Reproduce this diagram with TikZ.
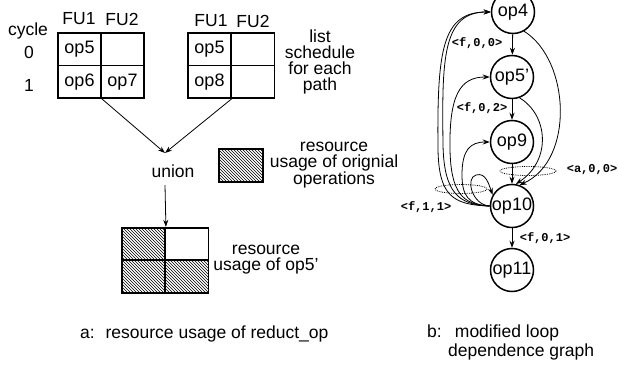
\documentclass[tikz,border=0pt]{standalone}
\usepackage{fontspec}
\setmainfont{Liberation Sans}
\newfontfamily\tagfont{Liberation Mono}
\usetikzlibrary{arrows.meta,patterns}

\begin{document}
\begin{tikzpicture}[x=1pt,y=-1pt,
  txt/.style={font=\fontsize{17.5}{16}\selectfont, inner sep=0pt, align=center},
  capt/.style={font=\fontsize{17.5}{19}\selectfont, inner sep=0pt, anchor=west},
  cell/.style={draw, line width=1.5pt, minimum width=43pt, minimum height=32.5pt,
               inner sep=0pt, font=\fontsize{18}{18}\selectfont},
  bigcell/.style={cell, line width=1.8pt},
  hatch/.style={pattern=north west lines, pattern color=black},
  opnode/.style={circle, draw, line width=1.5pt, minimum size=43pt, inner sep=0pt,
                 font=\fontsize{18}{18}\selectfont},
  tag/.style={font=\fontsize{12}{12}\selectfont\tagfont\bfseries, inner sep=0pt},
  arr/.style={-{Stealth[length=7pt,width=5pt]}, line width=0.8pt},
  ring/.style={densely dotted, line width=0.8pt},
]
\useasboundingbox (0,0) rectangle (618,366);

% ---------- a: list schedules ----------
\node[txt] (cyc) at (28,31) {cycle};
\node[txt] (r0) at (29,52) {0};
\node[txt] (r1) at (29,85) {1};

\node[txt] (h1a) at (79,19) {FU1};
\node[txt] (h1b) at (122,19) {FU2};
\node[txt] (h2a) at (211,21) {FU1};
\node[txt] (h2b) at (253,21) {FU2};

\node[cell] (a00) at (79.5,49.25) {op5};
\node[cell] (a01) at (122.5,49.25) {};
\node[cell] (a10) at (79.5,81.75) {op6};
\node[cell] (a11) at (122.5,81.75) {op7};

\node[cell] (b00) at (209.5,49.25) {op5};
\node[cell] (b01) at (253,49.25) {};
\node[cell] (b10) at (209.5,81.75) {op8};
\node[cell] (b11) at (253,81.75) {};

\node[txt] (lsched) at (320,62) {list\\schedule\\for each\\path};

\coordinate (meet) at (165,153);
\draw[arr] (a10.south east) -- (meet);
\draw[arr] (b10.south east) -- (meet);

\node[txt] (union) at (173,171) {union};

\node[draw, hatch, line width=1.3pt, minimum width=44pt, minimum height=33pt,
      inner sep=0pt] (key) at (241,165.5) {};
\node[txt] (keytxt) at (334,165) {resource\\usage of orignial\\operations};

\coordinate (ustart) at (165,185);

\node[bigcell, hatch] (c00) at (143.5,244) {};
\node[bigcell] (c01) at (187,244) {};
\node[bigcell, hatch] (c10) at (143.5,276.5) {};
\node[bigcell, hatch] (c11) at (187,276.5) {};
\draw[arr] (ustart) -- (c00.north east);

\node[txt] (restxt) at (266,260) {resource\\usage of op5'};

\node[capt] (capa) at (80,334) {a:\hspace{0.62em}resource usage of reduct\_op};

% ---------- b: loop dependence graph ----------
\node[opnode] (op4) at (513,12) {op4};
\node[opnode] (op5) at (512,77) {op5'};
\node[opnode] (op9) at (512,142) {op9};
\node[opnode] (op10) at (512,206) {op10};
\node[opnode] (op11) at (512,270) {op11};

\draw[arr] (op4) -- (op5);
\draw[arr] (op5) -- (op9);
\draw[arr] (op9) -- (op10);
\draw[arr] (op10) -- (op11);

\draw[arr] (op4.-60) .. controls (570,60) and (575,160) .. (op10.70);
\draw[arr] (op5.-70) .. controls (548,115) and (552,160) .. (op10.80);

% back edges from op10
\draw[arr] (op10.west) .. controls (452,205) and (439,195) .. (438,150)
  .. controls (437,50) and (442,12) .. (op4.west);
\draw[arr] (op10.west) .. controls (458,205) and (444,192) .. (443,145)
  .. controls (442,60) and (442,12) .. (op4.west);
\draw[arr] (op10.west) .. controls (462,205) and (451,192) .. (450,150)
  .. controls (449,95) and (460,77) .. (op5.west);
\draw[arr] (op10.west) .. controls (468,205) and (462,195) .. (462,175)
  .. controls (462,150) and (470,142) .. (op9.west);
\draw[arr] (op10.west) .. controls (472,205) and (465,178) .. (476,175)
  .. controls (486,172) and (489,185) .. (op10.150);

\draw[ring] (461,189) ellipse [x radius=26, y radius=4.5];
\draw[ring] (528,171) ellipse [x radius=28, y radius=4.5];

\node[tag] (t400) at (477,43) {<f,0,0>};
\node[tag] (t502) at (482,108) {<f,0,2>};
\node[tag] (ta00) at (592,170) {<a,0,0>};
\node[tag] (t111) at (426,207) {<f,1,1>};
\node[tag] (t001) at (545,238) {<f,0,1>};

\node[capt] (capb1) at (427,333) {b:\hspace{0.75em}modified loop};
\node[capt] (capb2) at (448,352) {dependence graph};
\end{tikzpicture}
\end{document}
